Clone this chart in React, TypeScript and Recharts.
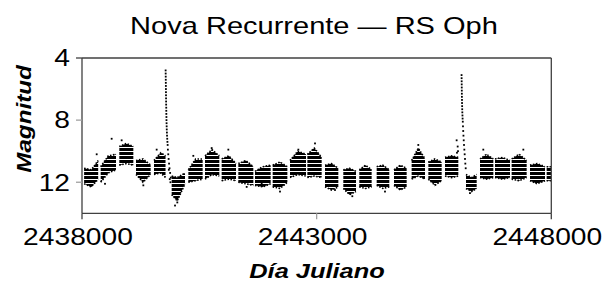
import React from 'react';
import { ComposedChart, Area, Scatter, XAxis, YAxis, ReferenceLine } from 'recharts';

// ---------- data ----------
const JD0 = 2438000;
const xTicks = [2438000, 2443000, 2448000];
const yTicks = [4, 8, 12];

// observing seasons: [start, middle, end] as JD - 2438000
const seasonJD = [
  [45, 200, 345],
  [398, 560, 725],
  [795, 945, 1094],
  [1151, 1300, 1463],
  [1534, 1680, 1780],
  [1911, 2030, 2195],
  [2266, 2420, 2571],
  [2621, 2770, 2926],
  [2976, 3130, 3282],
  [3331, 3490, 3651],
  [3686, 3850, 4020],
  [4063, 4220, 4376],
  [4432, 4600, 4773],
  [4802, 4950, 5107],
  [5178, 5320, 5462],
  [5568, 5700, 5838],
  [5909, 6040, 6172],
  [6279, 6410, 6548],
  [6648, 6780, 6918],
  [7024, 7166, 7309],
  [7380, 7520, 7664],
  [7735, 7880, 8019],
  [8182, 8300, 8410],
  [8481, 8620, 8765],
  [8800, 8960, 9120],
  [9155, 9315, 9475],
  [9546, 9700, 9866],
  [9901, 9950, 9998],
];
// brightest magnitude seen in each season at start / middle / end
const seasonBright = [
  [11.1, 11.2, 10.6],
  [11.0, 10.3, 10.2],
  [9.7, 9.5, 9.7],
  [10.6, 10.5, 10.9],
  [10.6, 10.1, 10.3],
  [11.6, 11.7, 11.4],
  [11.2, 10.5, 10.5],
  [10.3, 9.9, 10.3],
  [10.5, 10.3, 10.8],
  [10.8, 10.6, 11.0],
  [11.3, 11.0, 10.9],
  [10.9, 10.7, 11.0],
  [10.6, 10.0, 10.2],
  [10.2, 9.8, 10.4],
  [10.9, 10.8, 11.1],
  [11.2, 11.1, 11.3],
  [11.2, 10.9, 11.2],
  [11.0, 10.9, 11.2],
  [11.2, 10.9, 11.1],
  [10.6, 9.8, 10.5],
  [10.7, 10.5, 10.7],
  [10.4, 10.3, 10.4],
  [11.5, 11.7, 11.5],
  [10.5, 10.2, 10.5],
  [10.5, 10.4, 10.6],
  [10.5, 10.2, 10.6],
  [10.9, 10.8, 11.0],
  [11.0, 11.0, 11.0],
];
// faintest magnitude seen in each season at start / middle / end
const seasonFaint = [
  [12.1, 12.3, 11.8],
  [12.0, 11.4, 11.2],
  [10.9, 10.8, 10.9],
  [11.5, 12.0, 11.5],
  [11.5, 11.4, 11.7],
  [12.8, 13.2, 12.1],
  [12.0, 11.9, 11.8],
  [11.8, 11.5, 11.6],
  [11.9, 11.8, 11.9],
  [12.0, 12.1, 12.2],
  [12.2, 12.3, 12.1],
  [12.3, 12.4, 12.0],
  [11.7, 11.5, 11.6],
  [11.7, 11.6, 11.7],
  [12.3, 12.5, 12.3],
  [12.4, 12.8, 12.6],
  [12.3, 12.4, 12.3],
  [12.2, 12.4, 12.3],
  [12.2, 12.5, 12.3],
  [11.8, 11.6, 11.8],
  [11.8, 12.2, 11.9],
  [11.6, 11.7, 11.6],
  [12.4, 12.6, 12.4],
  [11.7, 11.8, 11.7],
  [11.7, 11.8, 11.7],
  [11.8, 11.9, 11.7],
  [11.9, 12.1, 11.9],
  [11.9, 11.9, 11.9],
];

// 1967 outburst: [JD - 2438000, magnitude]
const outburst1967 = [
  [1782, 4.8], [1783, 5.0], [1784, 5.2], [1785, 5.4], [1786, 5.6], [1787, 5.8],
  [1788, 6.0], [1789, 6.2], [1790, 6.4], [1791, 6.6], [1792, 6.8], [1793, 7.0],
  [1795, 7.2], [1796, 7.4], [1797, 7.6], [1799, 7.8], [1800, 8.0], [1802, 8.2],
  [1804, 8.4], [1806, 8.6], [1809, 8.8], [1812, 9.0], [1816, 9.2], [1820, 9.4],
  [1825, 9.6], [1830, 9.9], [1838, 10.2], [1846, 10.5], [1855, 10.8], [1865, 11.1],
  [1878, 11.4], [1892, 11.7], [1850, 11.2], [1870, 11.8], [1885, 12.0],
];
// 1985 outburst: [JD - 2438000, magnitude]
const outburst1985 = [
  [7983, 9.3], [7990, 10.1], [8005, 9.7], [8012, 10.0],
  [8088, 5.1], [8089, 5.3], [8090, 5.5], [8091, 5.7], [8092, 5.9], [8093, 6.1],
  [8094, 6.3], [8095, 6.5], [8097, 6.7], [8098, 6.9], [8100, 7.1], [8102, 7.3],
  [8104, 7.5], [8107, 7.7], [8110, 7.9], [8114, 8.1], [8118, 8.4], [8123, 8.7],
  [8128, 9.0], [8134, 9.3], [8140, 9.6], [8147, 9.9], [8154, 10.2], [8161, 10.5],
  [8168, 10.8], [8176, 11.1],
];
// isolated observations outside the seasonal bands
const strayPoints = [
  [313, 10.2], [632, 9.2], [490, 12.1], [845, 9.3], [1307, 12.2], [1591, 9.9],
  [1982, 13.5], [2031, 13.3], [2372, 10.3], [2763, 9.8], [3118, 9.9], [3509, 12.3],
  [3829, 12.1], [4219, 12.6], [4610, 9.9], [4965, 9.5], [5391, 12.5], [5760, 12.9],
  [6456, 12.6], [7166, 9.6], [8267, 12.7], [8551, 9.9], [9404, 9.9],
];

// ---------- build tables ----------
const bandData: any[] = [];
seasonJD.forEach((jds, i) => {
  jds.forEach((d, k) => {
    bandData.push({ jd: JD0 + d, range: [seasonBright[i][k], seasonFaint[i][k]] });
  });
  bandData.push({ jd: JD0 + jds[2] + 1, range: null });
});
const toPts = (arr: number[][]) => arr.map(([d, m]) => ({ jd: JD0 + d, mag: m }));
const spikePts = [...toPts(outburst1967), ...toPts(outburst1985), ...toPts(strayPoints)];

// ---------- layout ----------
const W = 605;
const H = 282;
const PLOT_L = 82;
const PLOT_R = 551.3;
const PLOT_T = 58;
const PLOT_B = 213.3;
const AXIS = '#404040';
const FONT = '"Liberation Sans", Arial, Helvetica, sans-serif';
const SX = 1.21;

const Dot = (p: any) => (
  <rect x={p.cx - 0.9} y={p.cy - 0.9} width={1.8} height={1.8} fill="#000" />
);

const XTick = (p: any) => {
  const v = p.payload.value;
  const edge = v === xTicks[0] || v === xTicks[xTicks.length - 1];
  return (
    <g>
      <line x1={p.x} x2={p.x} y1={PLOT_B} y2={PLOT_B + 6} stroke={edge ? AXIS : '#a0a0a0'} strokeWidth={1.3} />
      <text transform={`translate(${p.x - 4},245) scale(${SX},1)`} textAnchor="middle" fontSize={23.3} fontFamily={FONT} fill="#000">
        {v}
      </text>
    </g>
  );
};

const YTick = (p: any) => {
  const v = p.payload.value;
  const edge = v === 4;
  return (
    <g>
      <line x1={PLOT_L - 6} x2={PLOT_L} y1={p.y} y2={p.y} stroke={edge ? AXIS : '#a0a0a0'} strokeWidth={1.3} />
      <text transform={`translate(70,${p.y + 8.3}) scale(${SX},1)`} textAnchor="end" fontSize={23.3} fontFamily={FONT} fill="#000">
        {v}
      </text>
    </g>
  );
};

export default function App() {
  return (
    <div style={{ position: 'absolute', left: 0, top: 0, width: W, height: H, background: '#fff' }}>
      <ComposedChart
        width={W}
        height={H}
        data={bandData}
        margin={{ top: PLOT_T, right: W - PLOT_R, bottom: H - PLOT_B - 30, left: PLOT_L - 60 }}
      >
        <defs>
          <pattern id="obsStripes" width="6" height="4" patternUnits="userSpaceOnUse">
            <rect x="0" y="0" width="6" height="3" fill="#000" />
          </pattern>
        </defs>
        <XAxis
          dataKey="jd"
          type="number"
          domain={[xTicks[0], xTicks[xTicks.length - 1]]}
          ticks={xTicks}
          allowDataOverflow
          height={30}
          axisLine={{ stroke: AXIS, strokeWidth: 1.3 }}
          tickLine={false}
          tick={<XTick />}
          interval={0}
        />
        <YAxis
          type="number"
          reversed
          domain={[4, 14]}
          ticks={yTicks}
          allowDataOverflow
          width={60}
          axisLine={{ stroke: AXIS, strokeWidth: 1.3 }}
          tickLine={false}
          tick={<YTick />}
          interval={0}
        />
        <ReferenceLine y={4} stroke={AXIS} strokeWidth={1.3} />
        <ReferenceLine x={xTicks[xTicks.length - 1]} stroke={AXIS} strokeWidth={1.3} />
        <Area
          dataKey="range"
          type="linear"
          stroke="#000"
          strokeWidth={1.6}
          strokeDasharray="1.5 1.5"
          fill="url(#obsStripes)"
          fillOpacity={1}
          connectNulls={false}
          dot={false}
          activeDot={false}
          isAnimationActive={false}
        />
        <Scatter data={spikePts} dataKey="mag" shape={<Dot />} isAnimationActive={false} />
      </ComposedChart>
      <svg width={W} height={H} style={{ position: 'absolute', left: 0, top: 0, pointerEvents: 'none' }}>
        <text transform={`translate(314,34) scale(${SX},1)`} textAnchor="middle" fontSize={24} fontFamily={FONT} fill="#000">
          Nova Recurrente — RS Oph
        </text>
        <text transform={`translate(317,278) scale(${SX},1)`} textAnchor="middle" fontSize={21} fontWeight="bold" fontStyle="italic" fontFamily={FONT} fill="#000">
          Día Juliano
        </text>
        <text transform={`translate(31,119) rotate(-90) scale(${SX},1)`} textAnchor="middle" fontSize={20} fontWeight="bold" fontStyle="italic" fontFamily={FONT} fill="#000">
          Magnitud
        </text>
      </svg>
    </div>
  );
}
